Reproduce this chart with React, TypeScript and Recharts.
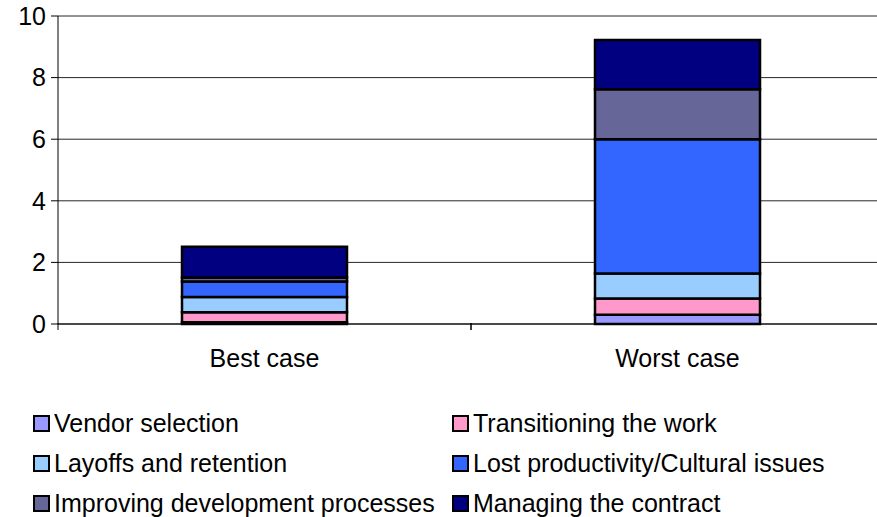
import { BarChart, Bar, XAxis, YAxis, CartesianGrid, Legend } from 'recharts'

const categories = ['Best case', 'Worst case']
const vendorSelection = [0.06, 0.3]
const transitioningWork = [0.32, 0.53]
const layoffsRetention = [0.5, 0.81]
const lostProductivity = [0.5, 4.36]
const improvingProcesses = [0.13, 1.62]
const managingContract = [1.0, 1.6]
const yTicks = [0, 2, 4, 6, 8, 10]

const series = [
  { key: 'vendor', name: 'Vendor selection', color: '#9999FF', values: vendorSelection },
  { key: 'transition', name: 'Transitioning the work', color: '#FF99CC', values: transitioningWork },
  { key: 'layoffs', name: 'Layoffs and retention', color: '#99CCFF', values: layoffsRetention },
  { key: 'lost', name: 'Lost productivity/Cultural issues', color: '#3366FF', values: lostProductivity },
  { key: 'improving', name: 'Improving development processes', color: '#666699', values: improvingProcesses },
  { key: 'managing', name: 'Managing the contract', color: '#000080', values: managingContract },
]

const data = categories.map((c, i) => {
  const row: Record<string, string | number> = { category: c }
  series.forEach(s => { row[s.key] = s.values[i] })
  return row
})

const FONT = '"Liberation Sans", Arial, sans-serif'
const CHART_W = 890
const Y_AXIS_W = 58
const RIGHT = 6
const BAND = (CHART_W - Y_AXIS_W - RIGHT) / categories.length

function XTick(props: any) {
  const { x, y, payload } = props
  const axisY = y - 9
  return (
    <g>
      <line x1={x - BAND / 2} y1={axisY} x2={x - BAND / 2} y2={axisY + 7} stroke="#000" />
      <line x1={x + BAND / 2} y1={axisY} x2={x + BAND / 2} y2={axisY + 7} stroke="#000" />
      <text x={x} y={axisY + 44} textAnchor="middle" fontSize={25} fill="#000" fontFamily={FONT}>
        {payload.value}
      </text>
    </g>
  )
}

function LegendBox() {
  return (
    <div style={{ position: 'relative', width: 877, height: 120, fontFamily: FONT, fontSize: 25, color: '#000' }}>
      {series.map((s, i) => {
        const col = i % 2
        const row = Math.floor(i / 2)
        return (
          <div
            key={s.key}
            style={{
              position: 'absolute',
              left: col === 0 ? 33 : 452,
              top: row * 40,
              height: 30,
              display: 'flex',
              alignItems: 'center',
              whiteSpace: 'nowrap',
            }}
          >
            <span style={{ width: 13, height: 13, background: s.color, border: '2px solid #000', marginRight: 4, display: 'inline-block' }} />
            <span>{s.name}</span>
          </div>
        )
      })}
    </div>
  )
}

export default function App() {
  return (
    <div style={{ position: 'absolute', left: 0, top: 0, width: 877, height: 517, overflow: 'hidden', background: '#fff' }}>
      <BarChart
        width={CHART_W}
        height={517}
        data={data}
        margin={{ top: 16, right: RIGHT, left: 0, bottom: 143 }}
        barCategoryGap={124}
      >
        <CartesianGrid vertical={false} stroke="#000" strokeOpacity={0.85} />
        <XAxis
          dataKey="category"
          axisLine={{ stroke: '#000' }}
          tickLine={false}
          tick={<XTick />}
          height={50}
          interval={0}
        />
        <YAxis
          domain={[0, 10]}
          ticks={yTicks}
          width={Y_AXIS_W}
          axisLine={{ stroke: '#000' }}
          tickLine={{ stroke: '#000' }}
          tickSize={7}
          tickMargin={5}
          tick={{ fontSize: 25, fill: '#000', fontFamily: FONT }}
        />
        <Legend
          layout="horizontal"
          verticalAlign="middle"
          align="center"
          wrapperStyle={{ top: 408, left: 0, width: 877 }}
          content={() => <LegendBox />}
        />
        {series.map(s => (
          <Bar
            key={s.key}
            dataKey={s.key}
            name={s.name}
            stackId="a"
            fill={s.color}
            stroke="#000"
            strokeWidth={2.5}
            isAnimationActive={false}
          />
        ))}
      </BarChart>
    </div>
  )
}
